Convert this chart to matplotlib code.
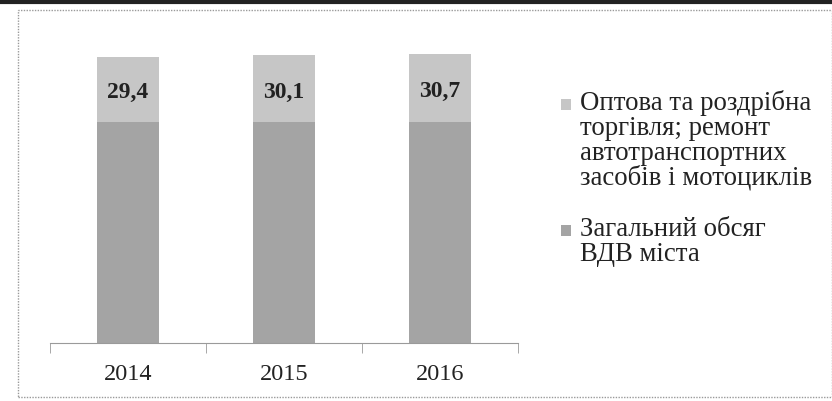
import numpy as np
import matplotlib.pyplot as plt
from matplotlib.patches import Rectangle
from matplotlib.lines import Line2D

plt.rcParams['font.family'] = ['Liberation Serif', 'DejaVu Serif']

# data
years = ['2014', '2015', '2016']
total_vdv = [100, 100, 100]          # Загальний обсяг ВДВ міста (base)
trade_share = [29.4, 30.1, 30.7]     # Оптова та роздрібна торгівля ...
trade_labels = ['29,4', '30,1', '30,7']

legend_lines = [
    ['Оптова та роздрібна', 'торгівля; ремонт', 'автотранспортних', 'засобів і мотоциклів'],
    ['Загальний обсяг', 'ВДВ міста'],
]

W, H = 832, 401
fig = plt.figure(figsize=(W / 100, H / 100), dpi=100)


def fx(px):
    return px / W


def fy(py):
    return 1 - py / H


# outer frame and the dark page line at the top
fig.add_artist(Rectangle((fx(18), fy(397)), 1 - fx(18), (397 - 10) / H,
                         transform=fig.transFigure, fill=False,
                         edgecolor='#9a9a9a', linewidth=1, linestyle=(0, (1, 1))))
fig.add_artist(Line2D([0, 1], [fy(1.5), fy(1.5)], transform=fig.transFigure,
                      color='#222222', linewidth=3))

ax = fig.add_axes([fx(50), fy(343), fx(468), (343 - 30) / H])
x = np.arange(len(years))
w = 0.40
c_total = '#a4a4a4'
c_trade = '#c6c6c6'

b1 = ax.bar(x, total_vdv, w, color=c_total)
b2 = ax.bar(x, trade_share, w, bottom=total_vdv, color=c_trade)

for rect, txt in zip(b2, trade_labels):
    cx = rect.get_x() + rect.get_width() / 2
    cy = rect.get_y() + rect.get_height() * 0.45
    ax.text(cx, cy, txt, ha='center', va='center', fontsize=17,
            fontweight='bold', color='#222222')

ax.set_xlim(-0.5, len(years) - 0.5)
ax.set_ylim(0, 141.6)
ax.set_yticks([])
for s in ['top', 'right', 'left']:
    ax.spines[s].set_visible(False)
ax.spines['bottom'].set_color('#9a9a9a')
ax.spines['bottom'].set_linestyle((0, (2, 1)))

ax.set_xticks(x)
ax.set_xticklabels(years, fontsize=17.5, color='#222222')
ax.tick_params(axis='x', length=0, pad=15)
ax.set_xticks(np.arange(len(years) + 1) - 0.5, minor=True)
ax.tick_params(axis='x', which='minor', length=7, color='#9a9a9a', direction='out')

# legend drawn line by line: marker next to the first line of each entry
entry_colors = [c_trade, c_total]
first_baselines = [110, 236]
step = 25
for lines, col, base in zip(legend_lines, entry_colors, first_baselines):
    fig.add_artist(Rectangle((fx(561), fy(base)), fx(10), 11 / H,
                             transform=fig.transFigure, facecolor=col,
                             edgecolor='none'))
    for i, line in enumerate(lines):
        fig.text(fx(580), fy(base + i * step), line, fontsize=19.3,
                 va='baseline', ha='left', color='#222222')

fig.savefig('out.png', dpi=100)
